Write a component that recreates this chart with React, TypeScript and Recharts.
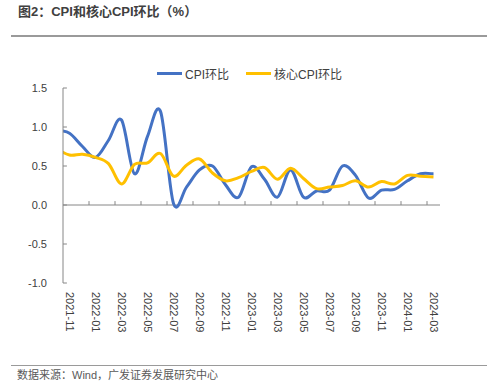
import React from "react";
import { LineChart, Line, XAxis, YAxis, ReferenceLine } from "recharts";

// monthly points; 2021-10 sits just left of the plot and is clipped at the axis
const months = [
  "2021-10", "2021-11", "2021-12",
  "2022-01", "2022-02", "2022-03", "2022-04", "2022-05", "2022-06",
  "2022-07", "2022-08", "2022-09", "2022-10", "2022-11", "2022-12",
  "2023-01", "2023-02", "2023-03", "2023-04", "2023-05", "2023-06",
  "2023-07", "2023-08", "2023-09", "2023-10", "2023-11", "2023-12",
  "2024-01", "2024-02", "2024-03",
];
const cpiMoM = [
  0.96, 0.92, 0.75,
  0.61, 0.83, 1.09, 0.40, 0.88, 1.20,
  0.02, 0.23, 0.45, 0.50, 0.26, 0.10,
  0.49, 0.33, 0.10, 0.45, 0.10, 0.18,
  0.19, 0.50, 0.38, 0.09, 0.19, 0.20,
  0.31, 0.40, 0.40,
];
const coreCpiMoM = [
  0.72, 0.64, 0.65,
  0.61, 0.53, 0.27, 0.52, 0.54, 0.66,
  0.37, 0.51, 0.59, 0.41, 0.31, 0.35,
  0.43, 0.48, 0.33, 0.47, 0.34, 0.21,
  0.23, 0.25, 0.31, 0.23, 0.30, 0.27,
  0.38, 0.37, 0.36,
];
const yTicks = [-1, -0.5, 0, 0.5, 1, 1.5];
const labelTicks = [0, 2, 4, 6, 8, 10, 12, 14, 16, 18, 20, 22, 24, 26, 28];
const tickMarks = [1.5, 3.5, 5.5, 7.5, 9.5, 11.5, 13.5, 15.5, 17.5, 19.5, 21.5, 23.5, 25.5, 27.5];

const data = months.map((m, k) => ({ i: k - 1, month: m, cpi: cpiMoM[k], core: coreCpiMoM[k] }));

const BLUE = "#4472C4";
const YELLOW = "#FFC000";
const AXIS = "#868686";
const TEXT = "#404040";
const FONT = "'Liberation Sans', Arial, 'Noto Sans CJK SC', sans-serif";

// Excel style smoothed line (Catmull-Rom through each point)
const excelSmooth = (ctx: any) => {
  let pts: number[][] = [];
  return {
    areaStart() {},
    areaEnd() {},
    lineStart() {
      pts = [];
    },
    point(x: number, y: number) {
      pts.push([+x, +y]);
    },
    lineEnd() {
      const n = pts.length;
      if (!n) return;
      ctx.moveTo(pts[0][0], pts[0][1]);
      for (let k = 0; k < n - 1; k++) {
        const p0 = pts[Math.max(k - 1, 0)];
        const p1 = pts[k];
        const p2 = pts[k + 1];
        const p3 = pts[Math.min(k + 2, n - 1)];
        ctx.bezierCurveTo(
          p1[0] + (p2[0] - p0[0]) / 6, p1[1] + (p2[1] - p0[1]) / 6,
          p2[0] - (p3[0] - p1[0]) / 6, p2[1] - (p3[1] - p1[1]) / 6,
          p2[0], p2[1]
        );
      }
    },
  };
};

const MonthTick = ({ x, y, payload }: any) => (
  <text
    x={x}
    y={y}
    transform={`rotate(90, ${x}, ${y})`}
    textAnchor="start"
    dy="0.35em"
    fontSize={11}
    fill={TEXT}
    fontFamily={FONT}
  >
    {months[payload.value + 1]}
  </text>
);

function LegendItem({ color, label, left }: { color: string; label: string; left: number }) {
  return (
    <div style={{ position: "absolute", left, top: 64, display: "flex", alignItems: "center", height: 18 }}>
      <div style={{ width: 25, height: 3, background: color, marginRight: 3 }} />
      <span style={{ fontSize: 12, color: TEXT, fontFamily: FONT }}>{label}</span>
    </div>
  );
}

export default function App() {
  return (
    <div style={{ position: "absolute", left: 0, top: 0, width: 500, height: 389, background: "#fff", fontFamily: FONT }}>
      <div style={{ position: "absolute", left: 18, top: 4, fontSize: 13, fontWeight: "bold", color: TEXT, lineHeight: "16px", fontFamily: FONT }}>
        图2：CPI和核心CPI环比（%）
      </div>
      <div style={{ position: "absolute", left: 11, top: 35, width: 476, height: 1.5, background: "#9a9a9a" }} />

      <LegendItem color={BLUE} label="CPI环比" left={157} />
      <LegendItem color={YELLOW} label="核心CPI环比" left={246} />

      <div style={{ position: "absolute", left: 0, top: 0 }}>
        <LineChart width={500} height={389} data={data} margin={{ top: 88, right: 60, bottom: 56, left: 0 }}>
          <XAxis
            type="number"
            dataKey="i"
            domain={[-0.5, 28.5]}
            allowDataOverflow
            ticks={labelTicks}
            interval={0}
            axisLine={false}
            tickLine={false}
            tickSize={0}
            tickMargin={9}
            height={50}
            tick={<MonthTick />}
          />
          <YAxis
            domain={[-1, 1.5]}
            ticks={yTicks}
            interval={0}
            width={63}
            axisLine={{ stroke: AXIS }}
            tickLine={false}
            tickSize={0}
            tickMargin={16}
            tickFormatter={(v: number) => v.toFixed(1)}
            tick={{ fontSize: 11, fill: TEXT, fontFamily: FONT }}
          />
          <ReferenceLine y={0} stroke={AXIS} />
          {tickMarks.map((t) => (
            <ReferenceLine key={`x${t}`} segment={[{ x: t, y: 0 }, { x: t, y: 0.05 }]} stroke={AXIS} />
          ))}
          {yTicks.map((v) => (
            <ReferenceLine key={`y${v}`} segment={[{ x: -0.5, y: v }, { x: -0.2, y: v }]} stroke={AXIS} />
          ))}
          <Line dataKey="cpi" name="CPI环比" type={excelSmooth as any} stroke={BLUE} strokeWidth={3} dot={false} isAnimationActive={false} />
          <Line dataKey="core" name="核心CPI环比" type={excelSmooth as any} stroke={YELLOW} strokeWidth={3} dot={false} isAnimationActive={false} />
        </LineChart>
      </div>

      <div style={{ position: "absolute", left: 11, top: 365, width: 476, height: 1, background: "#9a9a9a" }} />
      <div style={{ position: "absolute", left: 17, top: 368, fontSize: 11, color: "#595959", lineHeight: "14px", fontFamily: FONT }}>
        数据来源：Wind，广发证券发展研究中心
      </div>
    </div>
  );
}
